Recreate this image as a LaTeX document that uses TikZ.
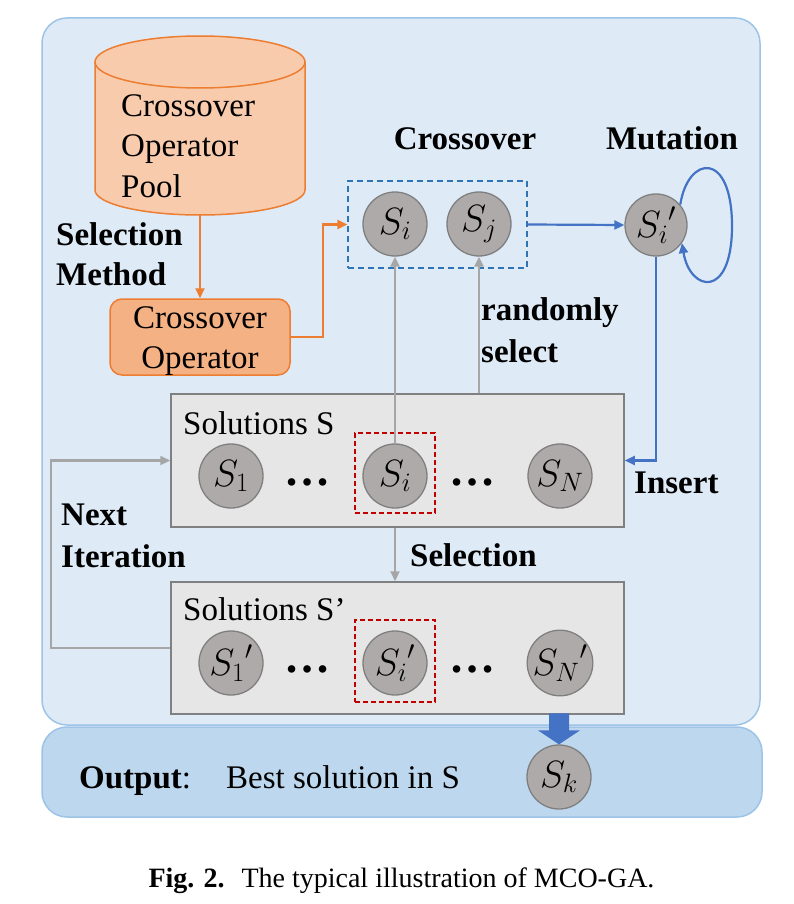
\RequirePackage{fix-cm}
\documentclass[tikz,border=0pt]{standalone}
\usepackage{fontspec}
\setmainfont{Liberation Serif}
\usetikzlibrary{arrows.meta,shapes.geometric,calc}
\definecolor{panelfill}{HTML}{DEEBF7}
\definecolor{panelline}{HTML}{9DC3E6}
\definecolor{outfill}{HTML}{BDD7EE}
\definecolor{orng}{HTML}{ED7D31}
\definecolor{cylfill}{HTML}{F8CBAD}
\definecolor{opfill}{HTML}{F4B183}
\definecolor{blu}{HTML}{4472C4}
\definecolor{dashblu}{HTML}{2E75B6}
\definecolor{grayarr}{HTML}{A6A6A6}
\definecolor{boxfill}{HTML}{E7E6E6}
\definecolor{boxline}{HTML}{808080}
\definecolor{circfill}{HTML}{AEAAAA}
\definecolor{circline}{HTML}{7F7F7F}
\definecolor{redd}{HTML}{C00000}
\newcommand\lblfont{\fontsize{33}{40}\selectfont}
\newcommand\mathsz{\fontsize{38}{44}\selectfont}
\tikzset{
  lbl/.style={font=\lblfont, inner sep=0pt},
  blbl/.style={font=\lblfont\bfseries, inner sep=0pt},
  sol/.style={circle, draw=circline, fill=circfill, line width=1.3pt, minimum size=64pt, inner sep=0pt, font=\mathsz},
  solbox/.style={draw=boxline, fill=boxfill, line width=1.5pt, inner sep=0pt},
  reddash/.style={draw=redd, dash pattern=on 5pt off 3pt, line width=1.3pt, inner sep=0pt},
  bluedash/.style={draw=dashblu, dash pattern=on 6pt off 4pt, line width=1.3pt, inner sep=0pt},
  orarrow/.style={draw=orng, line width=2.2pt, -{Triangle[length=10pt,width=9pt]}},
  bluarrow/.style={draw=blu, line width=2.2pt, -{Triangle[length=10pt,width=9pt]}},
  grarrow/.style={draw=grayarr, line width=2.2pt, -{Triangle[length=10pt,width=9pt]}},
  dots/.style={font=\fontsize{46}{50}\selectfont\bfseries, inner sep=0pt, anchor=base}
}
\begin{document}
\begin{tikzpicture}[x=1pt,y=-1pt]
\useasboundingbox (0,0) rectangle (793,904);
% panels
\path[fill=panelfill, draw=panelline, line width=1.5pt, rounded corners=25pt] (42,18) rectangle (760,725);
\path[fill=outfill, draw=panelline, line width=1.5pt, rounded corners=25pt] (42,727) rectangle (762,817);
% cylinder
\path[fill=cylfill, draw=orng, line width=1.5pt] (95,62) -- (95,190) .. controls (95,203.8) and (142,215) .. (200,215) .. controls (258,215) and (305,203.8) .. (305,190) -- (305,62);
\path[fill=cylfill, draw=orng, line width=1.5pt] (200,62) ellipse [x radius=105, y radius=26];
\coordinate (poolbot) at (200,215);
\node[lbl, anchor=base west] (cyl1) at (121,117) {Crossover};
\node[lbl, anchor=base west] (cyl2) at (121,157) {Operator};
\node[lbl, anchor=base west] (cyl3) at (121,197) {Pool};
\node[blbl, anchor=base west] (selm1) at (56,245) {Selection};
\node[blbl, anchor=base west] (selm2) at (56,285) {Method};
% operator box
\node[draw=orng, fill=opfill, line width=1.5pt, rounded corners=12pt, minimum width=180pt, minimum height=76pt, inner sep=0pt] (op) at (200,337) {};
\node[lbl, anchor=base] (op1) at (200,328) {Crossover};
\node[lbl, anchor=base] (op2) at (200,368) {Operator};
\draw[orarrow] (poolbot) -- (op.north);
% crossover group
\node[bluedash, minimum width=179pt, minimum height=87pt] (cbox) at (437.5,224.5) {};
\draw[orarrow] (op.east) -- ++(32,0) |- (cbox.west);
\node[sol] (ci) at (395,224) {$S_i$};
\node[sol] (cj) at (479,224) {$S_j$};
\node[blbl, anchor=base] (crosslbl) at (465,150) {Crossover};
\node[blbl, anchor=base] (mutlbl) at (672,150) {Mutation};
\node[sol, minimum size=62pt] (cm) at (656,225) {${S_i}'$};
\draw[bluarrow] (cbox.east) -- (cm.west);
\draw[bluarrow] (cm.40) .. controls (688,155) and (732,150) .. (732,226) .. controls (732,300) and (690,292) .. (cm.-35);
% solutions S
\node[solbox, minimum width=453pt, minimum height=133pt] (sbox) at (397.5,460.5) {};
\node[lbl, anchor=base west] (stitle) at (183,434) {Solutions S};
\node[reddash, minimum width=80pt, minimum height=80pt] (rbox1) at (395,473) {};
\node[sol] (s1) at (231,476) {$S_1$};
\node[sol] (si) at (395,476) {$S_i$};
\node[sol] (sN) at (560,476) {$S_N$};
\node[dots] (d1) at (307,485) {…};
\node[dots] (d2) at (472,485) {…};
\draw[bluarrow] (cm.south) |- (sbox.east);
\node[blbl, anchor=base west] (ins) at (634,493) {Insert};
\draw[grarrow] (si.north) -- (ci.south);
\draw[grarrow] (cj.south |- sbox.north) -- (cj.south);
\node[blbl, anchor=base west] (rs1) at (481,320) {randomly};
\node[blbl, anchor=base west] (rs2) at (481,362) {select};
% solutions S'
\node[solbox, minimum width=453pt, minimum height=132pt] (sbox2) at (397.5,648) {};
\node[lbl, anchor=base west] (stitle2) at (183,620) {Solutions S’};
\node[reddash, minimum width=80pt, minimum height=82pt] (rbox2) at (395,661) {};
\node[sol] (s1p) at (231,663) {${S_1}'$};
\node[sol] (sip) at (395,663) {${S_i}'$};
\node[sol] (sNp) at (560,663) {${S_N}'$};
\node[dots] (d3) at (307,672) {…};
\node[dots] (d4) at (472,672) {…};
\draw[grarrow] (si.south |- sbox.south) -- (si.south |- sbox2.north);
\node[blbl, anchor=base west] (sellbl) at (410,566) {Selection};
\draw[grarrow] (sbox2.west) -- (51,648) |- (sbox.west);
\node[blbl, anchor=base west] (ni1) at (61,525) {Next};
\node[blbl, anchor=base west] (ni2) at (61,567) {Iteration};
% output
\node[sol] (sk) at (559,777) {$S_k$};
\fill[blu] ($(sk.north)+(-10,-31)$) -- ($(sk.north)+(10,-31)$) -- ($(sk.north)+(10,-14)$) -- ($(sk.north)+(21,-14)$) -- (sk.north) -- ($(sk.north)+(-21,-14)$) -- ($(sk.north)+(-10,-14)$) -- cycle;
\node[lbl, anchor=base west] (outlbl) at (79,788) {\textbf{Output}:};
\node[lbl, anchor=base west] (best) at (226,788) {Best solution in S};
% caption
\node[inner sep=0pt, anchor=base, font=\fontsize{28}{32}\selectfont] (cap) at (401.5,887) {\textbf{Fig. 2.}\hspace{0.6em}The typical illustration of MCO-GA.};
\end{tikzpicture}
\end{document}
